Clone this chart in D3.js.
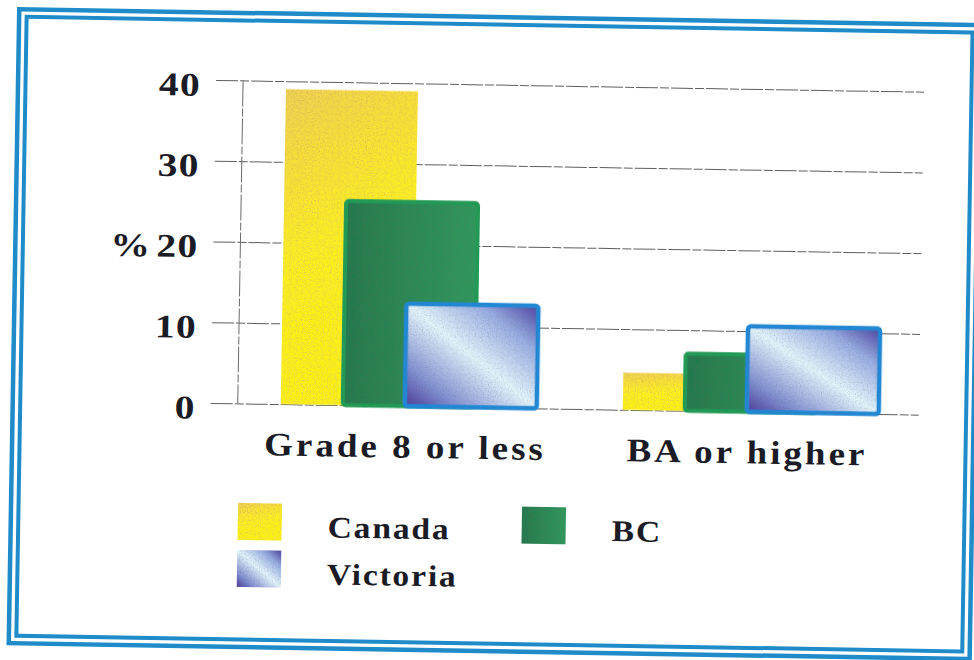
<!DOCTYPE html>
<html>
<head>
<meta charset="utf-8">
<script src="https://cdn.jsdelivr.net/npm/d3@7/dist/d3.min.js"></script>
<style>
  html, body { margin: 0; padding: 0; background: #ffffff; }
  svg { display: block; }
  .lbl { font-family: "Liberation Serif", "Times New Roman", serif; font-weight: bold; fill: #1b1b26; }
</style>
</head>
<body>
<svg id="chart" width="974" height="660"></svg>
<script>
// Education attainment: share of population (%) by region
const categories = ["Grade 8 or less", "BA or higher"];
const seriesNames = ["Canada", "BC", "Victoria"];
const canada = [39.0, 4.6];
const bc = [25.3, 7.1];
const victoria = [12.7, 10.6];
const yTicks = [0, 10, 20, 30, 40];
const yTitle = "%";

const seriesValues = { "Canada": canada, "BC": bc, "Victoria": victoria };

const svg = d3.select("#chart");
const defs = svg.append("defs");

// Fills
const gYellow = defs.append("linearGradient").attr("id", "fillCanada")
  .attr("x1", 0).attr("y1", 0).attr("x2", 0.25).attr("y2", 1);
[[0, "#f2d251"], [0.22, "#fadf36"], [0.55, "#fff01a"], [1, "#fff200"]]
  .forEach(([o, c]) => gYellow.append("stop").attr("offset", o).attr("stop-color", c));

const gGreen = defs.append("linearGradient").attr("id", "fillBC")
  .attr("x1", 0).attr("y1", 0).attr("x2", 1).attr("y2", 0);
[[0, "#237a4a"], [0.5, "#2a8a52"], [1, "#2f995a"]]
  .forEach(([o, c]) => gGreen.append("stop").attr("offset", o).attr("stop-color", c));

const gBlue = defs.append("linearGradient").attr("id", "fillVictoria")
  .attr("x1", 0).attr("y1", 1).attr("x2", 1).attr("y2", 0);
[[0, "#4a3a96"], [0.2, "#8291d2"], [0.5, "#e4f5fc"], [0.78, "#98ade2"], [1, "#4b42a0"]]
  .forEach(([o, c]) => gBlue.append("stop").attr("offset", o).attr("stop-color", c));

// Fine speckle texture on the filled areas (region padded so strokes stay whole)
const grain = defs.append("filter").attr("id", "grain")
  .attr("x", -0.1).attr("y", -0.1).attr("width", 1.2).attr("height", 1.2);
grain.append("feTurbulence").attr("type", "fractalNoise").attr("baseFrequency", 0.85)
  .attr("numOctaves", 1).attr("seed", 4).attr("result", "noise");
grain.append("feColorMatrix").attr("in", "noise").attr("type", "matrix")
  .attr("values", "0 0 0 0 0.1  0 0 0 0 0.1  0 0 0 0 0.2  1.2 0 0 0 -0.56")
  .attr("result", "specks");
grain.append("feComposite").attr("in", "specks").attr("in2", "SourceGraphic")
  .attr("operator", "in").attr("result", "clipped");
const merge = grain.append("feMerge");
merge.append("feMergeNode").attr("in", "SourceGraphic");
merge.append("feMergeNode").attr("in", "clipped");

const seriesStyle = {
  "Canada":   { fill: "url(#fillCanada)",   stroke: "none",    sw: 0 },
  "BC":       { fill: "url(#fillBC)",       stroke: "#1f9e53", sw: 4 },
  "Victoria": { fill: "url(#fillVictoria)", stroke: "#1a8ad8", sw: 4.5 }
};

// Whole page sits slightly tilted
const root = svg.append("g").attr("transform", "rotate(0.95 487 330)");

// Double border frame
root.append("rect").attr("x", 14).attr("y", 17).attr("width", 961).attr("height", 634)
  .attr("fill", "none").attr("stroke", "#1f8bc9").attr("stroke-width", 4.5);
root.append("rect").attr("x", 21.5).attr("y", 24.5).attr("width", 946).attr("height", 619)
  .attr("fill", "none").attr("stroke", "#1f8bc9").attr("stroke-width", 4);

// Scales
const y = d3.scaleLinear().domain([0, 40]).range([407.5, 84.5]);
const x0 = d3.scaleBand().domain(categories).range([239, 923]);
const xs = d3.scalePoint().domain(seriesNames).range([0, 124]);
const barW = 132;
const groupPad = (x0.bandwidth() - xs.range()[1] - barW) / 2;

// Gridlines with tick labels
const gridLeft = 212, gridRight = 920;
const yAxis = d3.axisLeft(y).tickValues(yTicks).tickSize(-(gridRight - gridLeft)).tickPadding(16);
const gy = root.append("g").attr("transform", `translate(${gridLeft},0)`).call(yAxis);
gy.select(".domain").remove();
gy.selectAll(".tick line").attr("stroke", "#5e5e5e").attr("stroke-width", 1)
  .attr("stroke-dasharray", "22 2 9 2");
gy.selectAll(".tick text")
  .attr("class", "lbl")
  .attr("x", null).attr("dy", null)
  .attr("transform", "translate(-15,15.5) scale(1.2,1)")
  .style("font-size", "33px").style("letter-spacing", "1px");

root.append("text").attr("class", "lbl")
  .attr("transform", `translate(109,${y(20) + 16}) scale(1.2,1)`)
  .style("font-size", "33px")
  .text(yTitle);

// Vertical axis line
root.append("line")
  .attr("x1", x0.range()[0]).attr("x2", x0.range()[0])
  .attr("y1", y(40)).attr("y2", y(0))
  .attr("stroke", "#6a6a6a").attr("stroke-width", 1).attr("stroke-dasharray", "26 2 8 2");

// Bars (later series overlap earlier ones)
seriesNames.forEach(name => {
  const st = seriesStyle[name];
  root.append("g").selectAll("rect")
    .data(categories.map((c, i) => ({ cat: c, v: seriesValues[name][i] })))
    .join("rect")
    .attr("x", d => x0(d.cat) + groupPad + xs(name))
    .attr("y", d => y(d.v))
    .attr("width", barW)
    .attr("height", d => y(0) - y(d.v))
    .attr("rx", st.sw ? 3 : 0)
    .attr("fill", st.fill)
    .attr("stroke", st.stroke)
    .attr("stroke-width", st.sw)
    .attr("filter", "url(#grain)");
});

// Category labels
const xAxis = d3.axisBottom(x0).tickSize(0);
const gx = root.append("g").attr("transform", `translate(0,${y(0)})`).call(xAxis);
gx.select(".domain").remove();
gx.selectAll(".tick text")
  .attr("class", "lbl")
  .attr("y", null).attr("dy", null)
  .attr("transform", "translate(-3,51.5) scale(1.12,1)")
  .style("font-size", "33px").style("letter-spacing", "2.7px");

// Legend
const legendPos = {
  "Canada":   [241, 507],
  "BC":       [525, 506],
  "Victoria": [241, 554]
};
const lg = root.append("g").selectAll("g").data(seriesNames).join("g")
  .attr("transform", d => `translate(${legendPos[d][0]},${legendPos[d][1]})`);
lg.append("rect").attr("width", 44).attr("height", 37)
  .attr("fill", d => seriesStyle[d].fill)
  .attr("filter", "url(#grain)");
lg.append("text").attr("class", "lbl")
  .attr("transform", "translate(90,33) scale(1.12,1)")
  .style("font-size", "30px").style("letter-spacing", "1.6px")
  .text(d => d);
</script>
</body>
</html>
